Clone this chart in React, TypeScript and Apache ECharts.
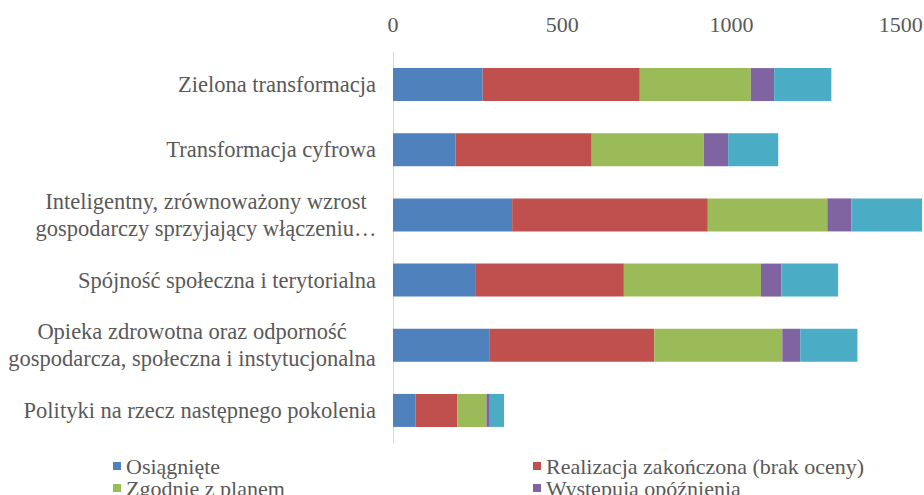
import React, { useEffect, useRef } from "react";
import * as echarts from "echarts";

const categories = [
  "Zielona transformacja",
  "Transformacja cyfrowa",
  "Inteligentny, zrównoważony wzrost\ngospodarczy sprzyjający włączeniu…",
  "Spójność społeczna i terytorialna",
  "Opieka zdrowotna oraz odporność\ngospodarcza, społeczna i instytucjonalna",
  "Polityki na rzecz następnego pokolenia",
];

const seriesNames = [
  "Osiągnięte",
  "Realizacja zakończona (brak oceny)",
  "Zgodnie z planem",
  "Występują opóźnienia",
  "Znaczne opóźnienia",
];

const achieved = [265, 185, 352, 245, 286, 66];
const completedNoAssessment = [464, 402, 578, 437, 486, 124];
const onTrack = [328, 331, 353, 405, 378, 86];
const delayed = [69, 72, 71, 60, 53, 10];
const significantDelay = [169, 148, 209, 168, 169, 42];

const xTicks = [0, 500, 1000, 1500, 2000];

const colors = ["#4F81BD", "#C0504D", "#9BBB59", "#8064A2", "#4BACC6"];

const FONT = "Liberation Serif";
const TEXT = "#595959";

export default function App() {
  const ref = useRef<HTMLDivElement>(null);
  useEffect(() => {
    if (!ref.current) return;
    const chart = echarts.init(ref.current, undefined, { renderer: "svg" });
    const values = [achieved, completedNoAssessment, onTrack, delayed, significantDelay];
    const legendStyle = {
      orient: "vertical" as const,
      itemWidth: 8,
      itemHeight: 8,
      itemGap: 0,
      padding: 0,
      height: 120,
      icon: "rect",
      textStyle: { fontFamily: FONT, fontSize: 22, color: TEXT, lineHeight: 22 },
    };
    chart.setOption({
      animation: false,
      backgroundColor: "#ffffff",
      textStyle: { fontFamily: FONT },
      grid: { left: 393, top: 52, height: 391, width: 677 },
      legend: [
        { ...legendStyle, left: 113, top: 455, data: [seriesNames[0], seriesNames[2]] },
        { ...legendStyle, left: 533, top: 455, data: [seriesNames[1], seriesNames[3]] },
      ],
      xAxis: {
        type: "value",
        position: "top",
        min: xTicks[0],
        max: xTicks[xTicks.length - 1],
        interval: xTicks[1] - xTicks[0],
        axisLine: { show: false },
        axisTick: { show: false },
        splitLine: { show: false },
        axisLabel: {
          fontFamily: FONT,
          fontSize: 22,
          color: TEXT,
          margin: 17,
          formatter: (v: number) => String(v),
        },
      },
      yAxis: {
        type: "category",
        inverse: true,
        data: categories,
        axisLine: { show: true, lineStyle: { color: "#d9d9d9", width: 1 } },
        axisTick: { show: false },
        axisLabel: {
          fontFamily: FONT,
          fontSize: 22.5,
          color: TEXT,
          margin: 17,
          lineHeight: 27,
          formatter: (v: string) => {
            if (v.indexOf("\n") < 0) return v;
            const key = v.startsWith("Inteligentny") ? "a" : "b";
            return v
              .split("\n")
              .map((l) => `{${key}|${l}}`)
              .join("\n");
          },
          rich: {
            a: { fontFamily: FONT, fontSize: 22.5, color: TEXT, lineHeight: 27, width: 340, align: "center" },
            b: { fontFamily: FONT, fontSize: 22.5, color: TEXT, lineHeight: 27, width: 368, align: "center" },
          },
        },
      },
      series: seriesNames.map((name, i) => ({
        name,
        type: "bar",
        stack: "total",
        barWidth: 33,
        itemStyle: { color: colors[i] },
        data: values[i],
      })),
    });
    return () => chart.dispose();
  }, []);
  return (
    <div style={{ position: "fixed", left: 0, top: 0, width: 924, height: 495, overflow: "hidden", background: "#fff" }}>
      <div ref={ref} style={{ width: 1100, height: 495 }} />
    </div>
  );
}
